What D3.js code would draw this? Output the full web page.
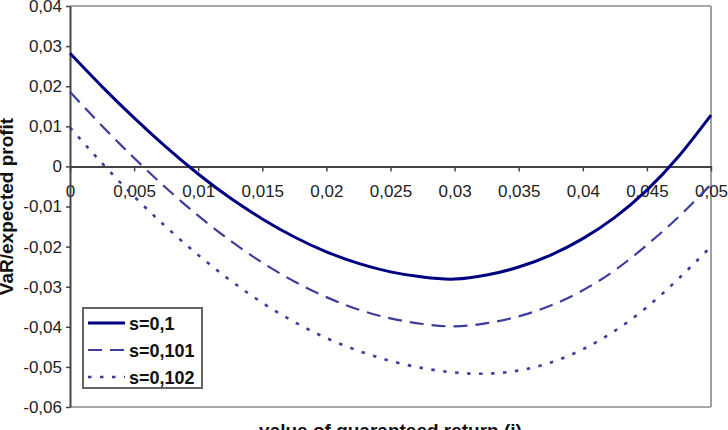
<!DOCTYPE html>
<html lang="en">
<head>
    <meta charset="UTF-8">
    <title>VaR / expected profit</title>
    <script src="https://d3js.org/d3.v7.min.js"></script>
    <style>
        body {
            margin: 0;
            background-color: white;
            font-family: "Liberation Sans", Arial, sans-serif;
        }
        .tick text {
            font-size: 17px;
            fill: #222;
        }
        .axis-title {
            font-size: 19px;
            font-weight: bold;
            fill: #111;
        }
        .legend-label {
            font-size: 18px;
            font-weight: bold;
            fill: #111;
        }
    </style>
</head>
<body>
    <div id="chart"></div>

    <script>
        // guaranteed return values (x)
        const returns = [0, 0.0025, 0.005, 0.0075, 0.01, 0.0125, 0.015, 0.0175, 0.02, 0.0225, 0.025,
                         0.0275, 0.03, 0.0325, 0.035, 0.0375, 0.04, 0.0425, 0.045, 0.0475, 0.05];

        // VaR/expected profit for each s
        const s0100 = [0.0282, 0.0199, 0.0121, 0.0048, -0.0019, -0.0079, -0.0131, -0.0176, -0.0213, -0.0242, -0.0263,
                       -0.0276, -0.0281, -0.0271, -0.0251, -0.0221, -0.0180, -0.0127, -0.0059, 0.0026, 0.0128];
        const s0101 = [0.0186, 0.0101, 0.0021, -0.0054, -0.0123, -0.0185, -0.0240, -0.0287, -0.0326, -0.0357, -0.0379,
                       -0.0393, -0.0399, -0.0391, -0.0374, -0.0347, -0.0309, -0.0259, -0.0196, -0.0125, -0.0045];
        const s0102 = [0.0097, 0.0008, -0.0075, -0.0151, -0.0221, -0.0284, -0.0340, -0.0388, -0.0428, -0.0460, -0.0485,
                       -0.0503, -0.0514, -0.0517, -0.0509, -0.0489, -0.0456, -0.0410, -0.0351, -0.0279, -0.0200];

        const seriesNames = ["s=0,1", "s=0,101", "s=0,102"];

        const xTicks = [0, 0.005, 0.01, 0.015, 0.02, 0.025, 0.03, 0.035, 0.04, 0.045, 0.05];
        const xTickLabels = ["0", "0,005", "0,01", "0,015", "0,02", "0,025", "0,03", "0,035", "0,04", "0,045", "0,05"];
        const yTicks = [0.04, 0.03, 0.02, 0.01, 0, -0.01, -0.02, -0.03, -0.04, -0.05, -0.06];
        const yTickLabels = ["0,04", "0,03", "0,02", "0,01", "0", "-0,01", "-0,02", "-0,03", "-0,04", "-0,05", "-0,06"];

        const width = 728, height = 430;
        const plot = { left: 70, right: 711, top: 6, bottom: 407 };

        const svg = d3.select("#chart")
            .append("svg")
            .attr("width", width)
            .attr("height", height);

        const x = d3.scaleLinear().domain([0, 0.05]).range([plot.left, plot.right]);
        const y = d3.scaleLinear().domain([-0.06, 0.04]).range([plot.bottom, plot.top]);

        // plot frame (top, right, bottom)
        svg.append("line")
            .attr("x1", plot.left).attr("x2", plot.right)
            .attr("y1", plot.top).attr("y2", plot.top)
            .attr("stroke", "#8a8a8a").attr("stroke-width", 1.5);
        svg.append("line")
            .attr("x1", plot.right).attr("x2", plot.right)
            .attr("y1", plot.top).attr("y2", plot.bottom)
            .attr("stroke", "#a0a0a0").attr("stroke-width", 2);
        svg.append("line")
            .attr("x1", plot.left).attr("x2", plot.right)
            .attr("y1", plot.bottom).attr("y2", plot.bottom)
            .attr("stroke", "#a8a8a8").attr("stroke-width", 2);

        // x axis sits on the zero line
        const xAxis = svg.append("g")
            .attr("transform", `translate(0,${y(0)})`)
            .call(d3.axisBottom(x)
                .tickValues(xTicks)
                .tickFormat((d, i) => xTickLabels[i])
                .tickSizeInner(5)
                .tickSizeOuter(0)
                .tickPadding(14));
        xAxis.select(".domain").attr("stroke", "#444").attr("stroke-width", 2);
        xAxis.selectAll(".tick line").attr("stroke", "#444").attr("stroke-width", 1.5);
        xAxis.selectAll("text").attr("font-family", null).attr("font-size", null);

        const yAxis = svg.append("g")
            .attr("transform", `translate(${plot.left},0)`)
            .call(d3.axisLeft(y)
                .tickValues(yTicks)
                .tickFormat((d, i) => yTickLabels[i])
                .tickSizeInner(4)
                .tickSizeOuter(0)
                .tickPadding(4));
        yAxis.select(".domain").attr("stroke", "#444").attr("stroke-width", 2);
        yAxis.selectAll(".tick line").attr("stroke", "#444").attr("stroke-width", 1.5);
        yAxis.selectAll("text").attr("font-family", null).attr("font-size", null);

        // curves
        const series = [
            { name: seriesNames[0], values: s0100, color: "#000080", width: 3, dash: null },
            { name: seriesNames[1], values: s0101, color: "#3d3d9e", width: 2.2, dash: "14,8" },
            { name: seriesNames[2], values: s0102, color: "#3d3d9e", width: 2.6, dash: "3.5,8.5" }
        ];

        const line = d3.line()
            .x(d => x(d[0]))
            .y(d => y(d[1]))
            .curve(d3.curveNatural);

        series.forEach(s => {
            svg.append("path")
                .datum(returns.map((r, i) => [r, s.values[i]]))
                .attr("fill", "none")
                .attr("stroke", s.color)
                .attr("stroke-width", s.width)
                .attr("stroke-dasharray", s.dash)
                .attr("d", line);
        });

        // legend
        const legend = svg.append("g").attr("transform", "translate(83,308)");
        legend.append("rect")
            .attr("width", 119).attr("height", 80)
            .attr("fill", "white")
            .attr("stroke", "#666").attr("stroke-width", 2);
        series.forEach((s, i) => {
            const ly = 15 + i * 27;
            legend.append("line")
                .attr("x1", 5).attr("x2", 42)
                .attr("y1", ly).attr("y2", ly)
                .attr("stroke", s.color)
                .attr("stroke-width", s.width)
                .attr("stroke-dasharray", s.dash);
            legend.append("text")
                .attr("class", "legend-label")
                .attr("x", 46).attr("y", ly + 6.5)
                .text(s.name);
        });

        // axis titles
        svg.append("text")
            .attr("class", "axis-title")
            .attr("text-anchor", "middle")
            .attr("transform", `translate(13,${(plot.top + plot.bottom) / 2}) rotate(-90)`)
            .text("VaR/expected profit");

        svg.append("text")
            .attr("class", "axis-title")
            .attr("text-anchor", "middle")
            .attr("x", (plot.left + plot.right) / 2)
            .attr("y", 437)
            .text("value of guaranteed return (i)");
    </script>
</body>
</html>
